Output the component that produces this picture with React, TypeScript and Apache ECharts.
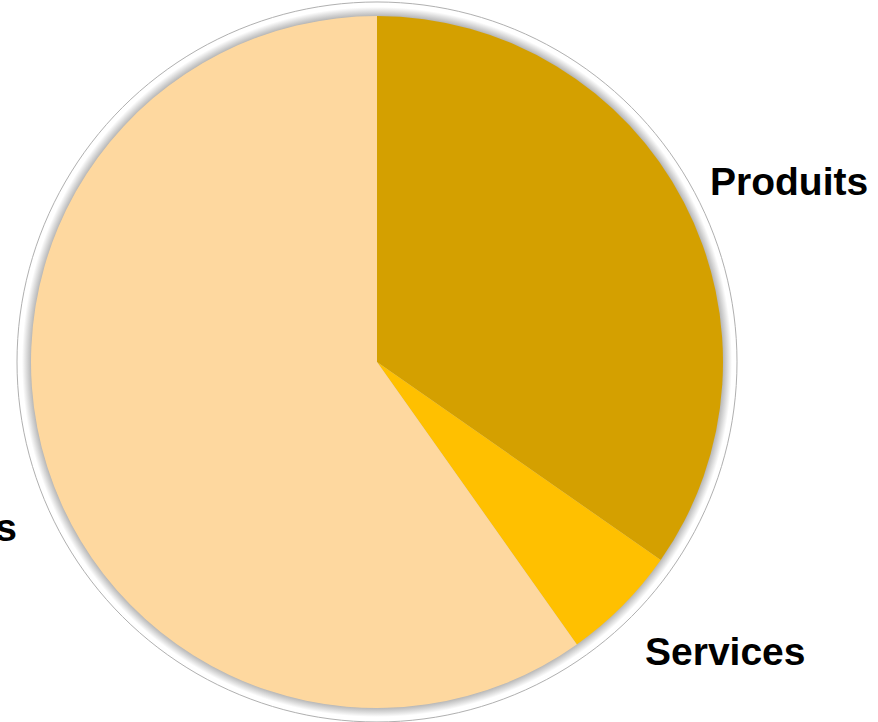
import React, { useEffect, useRef } from "react";
import * as echarts from "echarts";

const categories = ["Produits", "Services", "Marchandises"];
const values = [34.7, 5.5, 59.8];
const colors = ["#D4A000", "#FFC000", "#FED89F"];

const CX = 377;
const CY = 362;
const R = 346;
const R_OUT = 360;

const labelPos: Record<number, { x: number; y: number; align: string }> = {
  0: { x: 710, y: 181, align: "left" },
  1: { x: 645, y: 651, align: "left" },
  2: { x: 17, y: 527, align: "right" },
};

export default function App() {
  const ref = useRef<HTMLDivElement>(null);
  useEffect(() => {
    if (!ref.current) return;
    const chart = echarts.init(ref.current, null, { renderer: "svg" });
    chart.setOption({
      animation: false,
      backgroundColor: "#ffffff",
      graphic: [
        {
          type: "circle",
          z: -10,
          shape: { cx: CX, cy: CY, r: R_OUT },
          style: {
            fill: new echarts.graphic.RadialGradient(0.5, 0.5, 0.5, [
              { offset: 0, color: "#b8b8b8" },
              { offset: R / R_OUT, color: "#b8b8b8" },
              { offset: (R + 9) / R_OUT, color: "#ffffff" },
              { offset: 1, color: "#ffffff" },
            ]),
            stroke: "#b0b0b0",
            lineWidth: 1,
          },
        },
      ],
      series: [
        {
          type: "pie",
          center: [CX, CY],
          radius: [0, R],
          startAngle: 90,
          clockwise: true,
          z: 5,
          data: categories.map((name, i) => ({
            name,
            value: values[i],
            itemStyle: { color: colors[i] },
          })),
          itemStyle: { borderWidth: 0 },
          label: {
            show: true,
            position: "outside",
            formatter: "{b}",
            color: "#000000",
            fontFamily: "Liberation Sans",
            fontWeight: "bold",
            fontSize: 39,
            overflow: "none",
          },
          labelLine: { show: false },
          labelLayout: (p: any) => {
            const l = labelPos[p.dataIndex];
            return {
              x: l.x,
              y: l.y,
              align: l.align,
              verticalAlign: "middle",
              hideOverlap: false,
            };
          },
          emphasis: { disabled: true },
        },
      ],
    });
    return () => chart.dispose();
  }, []);
  return (
    <div
      ref={ref}
      style={{ position: "fixed", left: 0, top: 0, width: 878, height: 722 }}
    />
  );
}
